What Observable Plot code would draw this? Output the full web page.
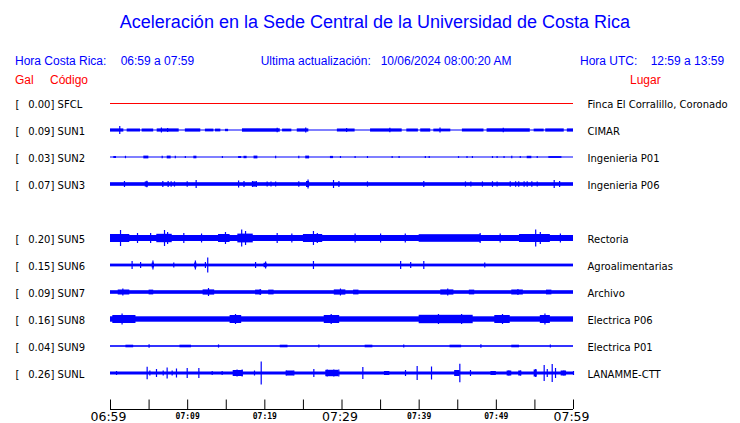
<!DOCTYPE html>
<html><head><meta charset="utf-8">
<script src="https://cdn.jsdelivr.net/npm/d3@7"></script>
<script src="https://cdn.jsdelivr.net/npm/@observablehq/plot@0.6"></script>
<style>
body{margin:0;background:#fff;}
#wrap{position:relative;width:740px;height:423px;overflow:hidden;font-family:"Liberation Sans",Arial,sans-serif;}
#wrap svg{position:absolute;left:0;top:0;}
.h{position:absolute;white-space:pre;color:#0000ff;font-size:12px;line-height:12px;}
.r{color:#ff0000;}
.t{font-size:18px;line-height:18px;left:0;width:750px;text-align:center;}
</style></head>
<body><div id="wrap"></div>
<script>
// ---- data ----
const title = "Aceleración en la Sede Central de la Universidad de Costa Rica";
const horaCR = "06:59 a 07:59";
const horaUTC = "12:59 a 13:59";
const actualizacion = "10/06/2024 08:00:20 AM";
const codes  = ["SFCL","SUN1","SUN2","SUN3","SUN5","SUN6","SUN7","SUN8","SUN9","SUNL"];
const gal    = [0.00, 0.09, 0.03, 0.07, 0.20, 0.15, 0.09, 0.16, 0.04, 0.26];
const places = ["Finca El Corralillo, Coronado","CIMAR","Ingenieria P01","Ingenieria P06","Rectoria",
                "Agroalimentarias","Archivo","Electrica P06","Electrica P01","LANAMME-CTT"];
const rows   = [0,1,2,3,5,6,7,8,9,10];          // SUN4 slot (4) is empty
const baseAmp = [0, 0.5, 0.5, 1.8, 3.0, 1.4, 1.8, 2.7, 0.8, 1.5]; // background noise half-amplitude (counts)
// minutes after 06:59
const tickMinutes = [0,5,10,15,20,25,30,35,40,45,50,55,60];
const bigTickLabels = [[0,"06:59"],[30,"07:29"],[60,"07:59"]];
const smallTickLabels = [[10,"07:09"],[20,"07:19"],[40,"07:39"],[50,"07:49"]];

// bursts: [start, end, half-amplitude]
const sun1Bursts = [[0,1.73,1.6],[2.16,3.89,1.5],[4.1,5.6,1.5],[6.05,8.9,1.6],[9.7,11.7,1.6],[12.3,13.4,1.4],
  [13.6,14.3,1.4],[14.9,15.3,1.2],[17.1,22.0,1.7],[22.3,23.5,1.4],[24.2,25.7,1.6],[29.4,31.7,1.5],[33.7,37.8,1.6],
  [38.4,39.9,1.5],[40.2,41.5,1.6],[41.9,44.1,1.4],[45.6,48.4,1.5],[48.8,54.4,1.7],[54.9,56.2,1.4],[56.4,58.8,1.6],[59.2,60,1.6]];
const sun1Spikes = [[1.2,4],[6.6,2.5],[7.4,2],[21.6,2.2],[25.3,2.5],[30.6,2],[36.2,2.2],[42.7,2.5],[50.9,2.2]];
const sun2Bursts = [[0.43,0.78,1],[4.32,4.97,1.4],[7.35,7.86,1.4],[10.8,11.2,1.3],[16.6,17.0,1],[17.3,17.7,1.2],
  [18.6,19.1,1.4],[25.3,25.8,1.4],[28.5,28.9,1.1],[54.0,54.6,1.2],[56.8,58.5,0.9]];
const sun2Spikes = [[1.94,1.2],[6.7,1.2],[8.4,1.2],[9.7,1],[14.5,1],[21.4,1.3],[24.4,1.2],[29.8,1],[31.7,0.9],
  [33.3,1],[36.5,1.1],[37.4,1.1],[40.8,1.1],[41.3,1.1],[45.1,0.9],[46.2,1],[46.9,1],[49.5,1],[50.1,1],[51.0,1.1],[52.0,1.2],[53.1,1],[55.3,1]];
const sun3Bursts = [[4.5,4.9,2.6],[18.4,18.9,2.6],[25.4,25.8,3]];
const sun3Spikes = [[1.81,3],[4.71,3.2],[6.78,3],[7.47,3],[7.86,2.8],[8.29,2.6],[9.94,2.8],[11.1,4],[16.6,3.5],[17.3,3],
  [18.4,3],[18.9,3],[20.3,2.6],[20.8,2.6],[21.4,2.6],[24.4,2.8],[25.6,4.5],[28.9,4],[29.6,3],[33.3,2.6],[40.6,3],
  [46.0,2.6],[46.7,2.6],[48.2,2.6],[49.5,2.8],[50.1,2.6],[51.8,2.8],[52.5,2.8],[52.9,2.8],[53.6,2.8],[54.0,2.8],
  [54.6,2.8],[55.3,2.6],[57.5,4],[58.2,3]];
const sun5Bursts = [[0,2.5,4],[6,8,4.2],[14,15.5,4],[16.5,18.5,4.4],[25,27.5,4],[40,48,3.8],[53,57,4]];
const sun5Spikes = [[1.3,8],[3.5,5],[5.2,5],[7.0,8],[7.4,6],[9.5,5],[11.8,4.5],[14.9,6],[17.0,8.5],[17.5,7],[21.6,5],
  [23.5,4.5],[26.3,7],[26.8,5],[31.7,4.5],[35,4.5],[38.2,4.5],[47.9,5],[50.5,4.5],[55.1,8.5],[55.7,6],[58.3,4.5]];
const sun6Bursts = [[5.4,5.7,2.5],[10.9,11.2,2.5],[19.9,20.3,2.2]];
const sun6Spikes = [[2.8,4],[3.9,3],[5.5,4.5],[8.2,2.5],[11.0,4.5],[12.3,3],[12.6,7.5],[18.8,3],[20.1,3.5],[26.3,4],
  [37.6,4],[38.9,3],[40.6,4],[48.5,2.5]];
const sun7Bursts = [[1,2.5,2.5],[5,5.6,2.4],[12,13.5,2.6],[18.8,19.6,2.4],[20.5,21.2,2.4],[29,30.5,2.6],[31.5,32.2,2.4],
  [42.8,44.5,2.6],[46.5,47.2,2.4],[52,53.5,2.5],[56.5,57.2,2.4]];
const sun7Spikes = [[1.6,3.5],[12.7,4],[19.4,3],[29.8,3.5],[43.7,3.5],[52.8,3]];
const sun8Bursts = [[0.3,3.3,4],[15.5,17,4],[27.7,29.7,4],[40,47,4.2],[49.8,51.8,4],[55.7,57,4]];
const sun8Spikes = [[1.5,5.5],[16.2,5],[28.6,5],[42.5,5],[45.5,5],[50.8,5],[56.3,5.5]];
const sun9Bursts = [[2,3,1.3],[9,10.5,1.3],[22,23,1.3],[33,34,1.3],[44,45.5,1.3],[52,53,1.3]];
const sun9Spikes = [[5,1.7],[14,1.6],[27,1.6],[38,1.6],[48,1.7],[57,1.6]];
const sunlBursts = [[15.9,17.2,3],[22.8,23.8,2.5],[27.9,29.6,3.2],[35.5,36.2,2],[44.6,45.3,3],[49.3,50,2],
  [51.4,52.0,2.5],[52.9,53.3,2.5],[54.9,55.3,3.5],[58.4,59.1,2.5]];
const sunlSpikes = [[0.78,2],[4.75,6.3],[5.10,2.5],[5.96,4],[6.83,2.5],[7.34,5.5],[7.99,2.5],[8.55,4.5],[9.94,5],
  [11.45,5],[13.18,2],[14.47,2],[16.4,3.5],[17.06,3.5],[18.66,2.5],[19.53,11.5],[22.77,2.5],[23.76,2.5],[26.35,4],
  [28.08,3.5],[28.94,3.5],[29.59,3.5],[32.7,6],[35.85,2],[38.23,3],[39.74,7],[41.6,6.5],[45.27,9.2],[46.65,3],
  [49.68,2],[51.62,2.5],[53.13,2.5],[55.1,4],[56.2,8],[56.6,4],[57.24,9],[57.67,5],[58.75,2.5],[60.0,2]];

// ---- build ----
const rowOf = Object.fromEntries(codes.map((c,i)=>[c,rows[i]]));
const K = 1/27; // counts -> row units
const burstsBy = {SUN1:sun1Bursts,SUN2:sun2Bursts,SUN3:sun3Bursts,SUN5:sun5Bursts,SUN6:sun6Bursts,
  SUN7:sun7Bursts,SUN8:sun8Bursts,SUN9:sun9Bursts,SUNL:sunlBursts};
const spikesBy = {SUN1:sun1Spikes,SUN2:sun2Spikes,SUN3:sun3Spikes,SUN5:sun5Spikes,SUN6:sun6Spikes,
  SUN7:sun7Spikes,SUN8:sun8Spikes,SUN9:sun9Spikes,SUNL:sunlSpikes};
const stations = codes.map((c,i)=>({code:c, gal:gal[i], place:places[i], row:rows[i], base:baseAmp[i]}));
const live = stations.filter(d=>d.base>0);
const dead = stations.filter(d=>d.base===0);
const bursts = Object.entries(burstsBy).flatMap(([c,a])=>a.map(([t0,t1,v])=>({row:rowOf[c],t0,t1,v})));
const spikes = Object.entries(spikesBy).flatMap(([c,a])=>a.map(([t,v])=>({row:rowOf[c],t,v})));
const py = p => (p-103)/27; // pixel row -> y units (layout helper)
const blue = "#0000ff";

const chart = Plot.plot({
  width:740, height:423, marginLeft:110, marginRight:167, marginTop:0, marginBottom:0,
  x:{domain:[0,60], axis:null},
  y:{domain:[0,10], range:[103,373], axis:null},
  style:{background:"transparent", overflow:"visible"},
  marks:[
    Plot.ruleY(dead,{y:"row", x1:0, x2:60, stroke:"#ff0000", strokeWidth:1}),
    Plot.rect(live,{x1:0, x2:60, y1:d=>d.row-d.base*K, y2:d=>d.row+d.base*K, fill:blue}),
    Plot.rect(bursts,{x1:"t0", x2:"t1", y1:d=>d.row-d.v*K, y2:d=>d.row+d.v*K, fill:blue}),
    Plot.ruleX(spikes,{x:"t", y1:d=>d.row-d.v*K, y2:d=>d.row+d.v*K, stroke:blue, strokeWidth:1.2}),
    Plot.text(stations,{x:0, y:"row", text:()=>"[", dx:-95, dy:1, textAnchor:"start", fontSize:10, fontFamily:"DejaVu Sans", fill:"black"}),
    Plot.text(stations,{x:0, y:"row", text:d=>`${d.gal.toFixed(2)}] ${d.code}`, dx:-82.3, dy:1, textAnchor:"start", fontSize:10, fontFamily:"DejaVu Sans", fill:"black"}),
    Plot.text(stations,{x:60, y:"row", text:"place", dx:14, dy:1, textAnchor:"start", fontSize:10, fontFamily:"DejaVu Sans", fill:"black"}),
    // time axis
    Plot.ruleY([py(409)],{x1:0, x2:60, stroke:"black", strokeWidth:1}),
    Plot.ruleX(tickMinutes,{x:d=>d, y1:py(399.5), y2:py(409), stroke:"black", strokeWidth:1}),
    Plot.text(bigTickLabels,{x:d=>d[0], y:py(416.3), text:d=>d[1], dx:-2, fontSize:12.5, fontFamily:"DejaVu Sans", fill:"black"}),
    Plot.text(smallTickLabels,{x:d=>d[0], y:py(415.5), text:d=>d[1], fontSize:8, fontWeight:"bold", fontFamily:"DejaVu Sans Mono", fill:"black"})
  ]
});
const wrap = document.getElementById("wrap");
wrap.appendChild(chart);
function add(cls, text, left, top){
  const d=document.createElement("div"); d.className="h "+cls; d.textContent=text;
  if(left!==null) d.style.left=left+"px"; d.style.top=top+"px"; wrap.appendChild(d);
}
add("t", title, null, 12.8);
add("", "Hora Costa Rica:", 15, 55.3);
add("", horaCR, 120.7, 55.3);
add("", "Ultima actualización:", 260.7, 55.3);
add("", actualizacion, 380.7, 55.3);
add("", "Hora UTC:", 580, 55.3);
add("", horaUTC, 650.7, 55.3);
add("r", "Gal", 15, 74.3);
add("r", "Código", 50, 74.3);
add("r", "Lugar", 630, 74.3);
</script>
</body></html>
